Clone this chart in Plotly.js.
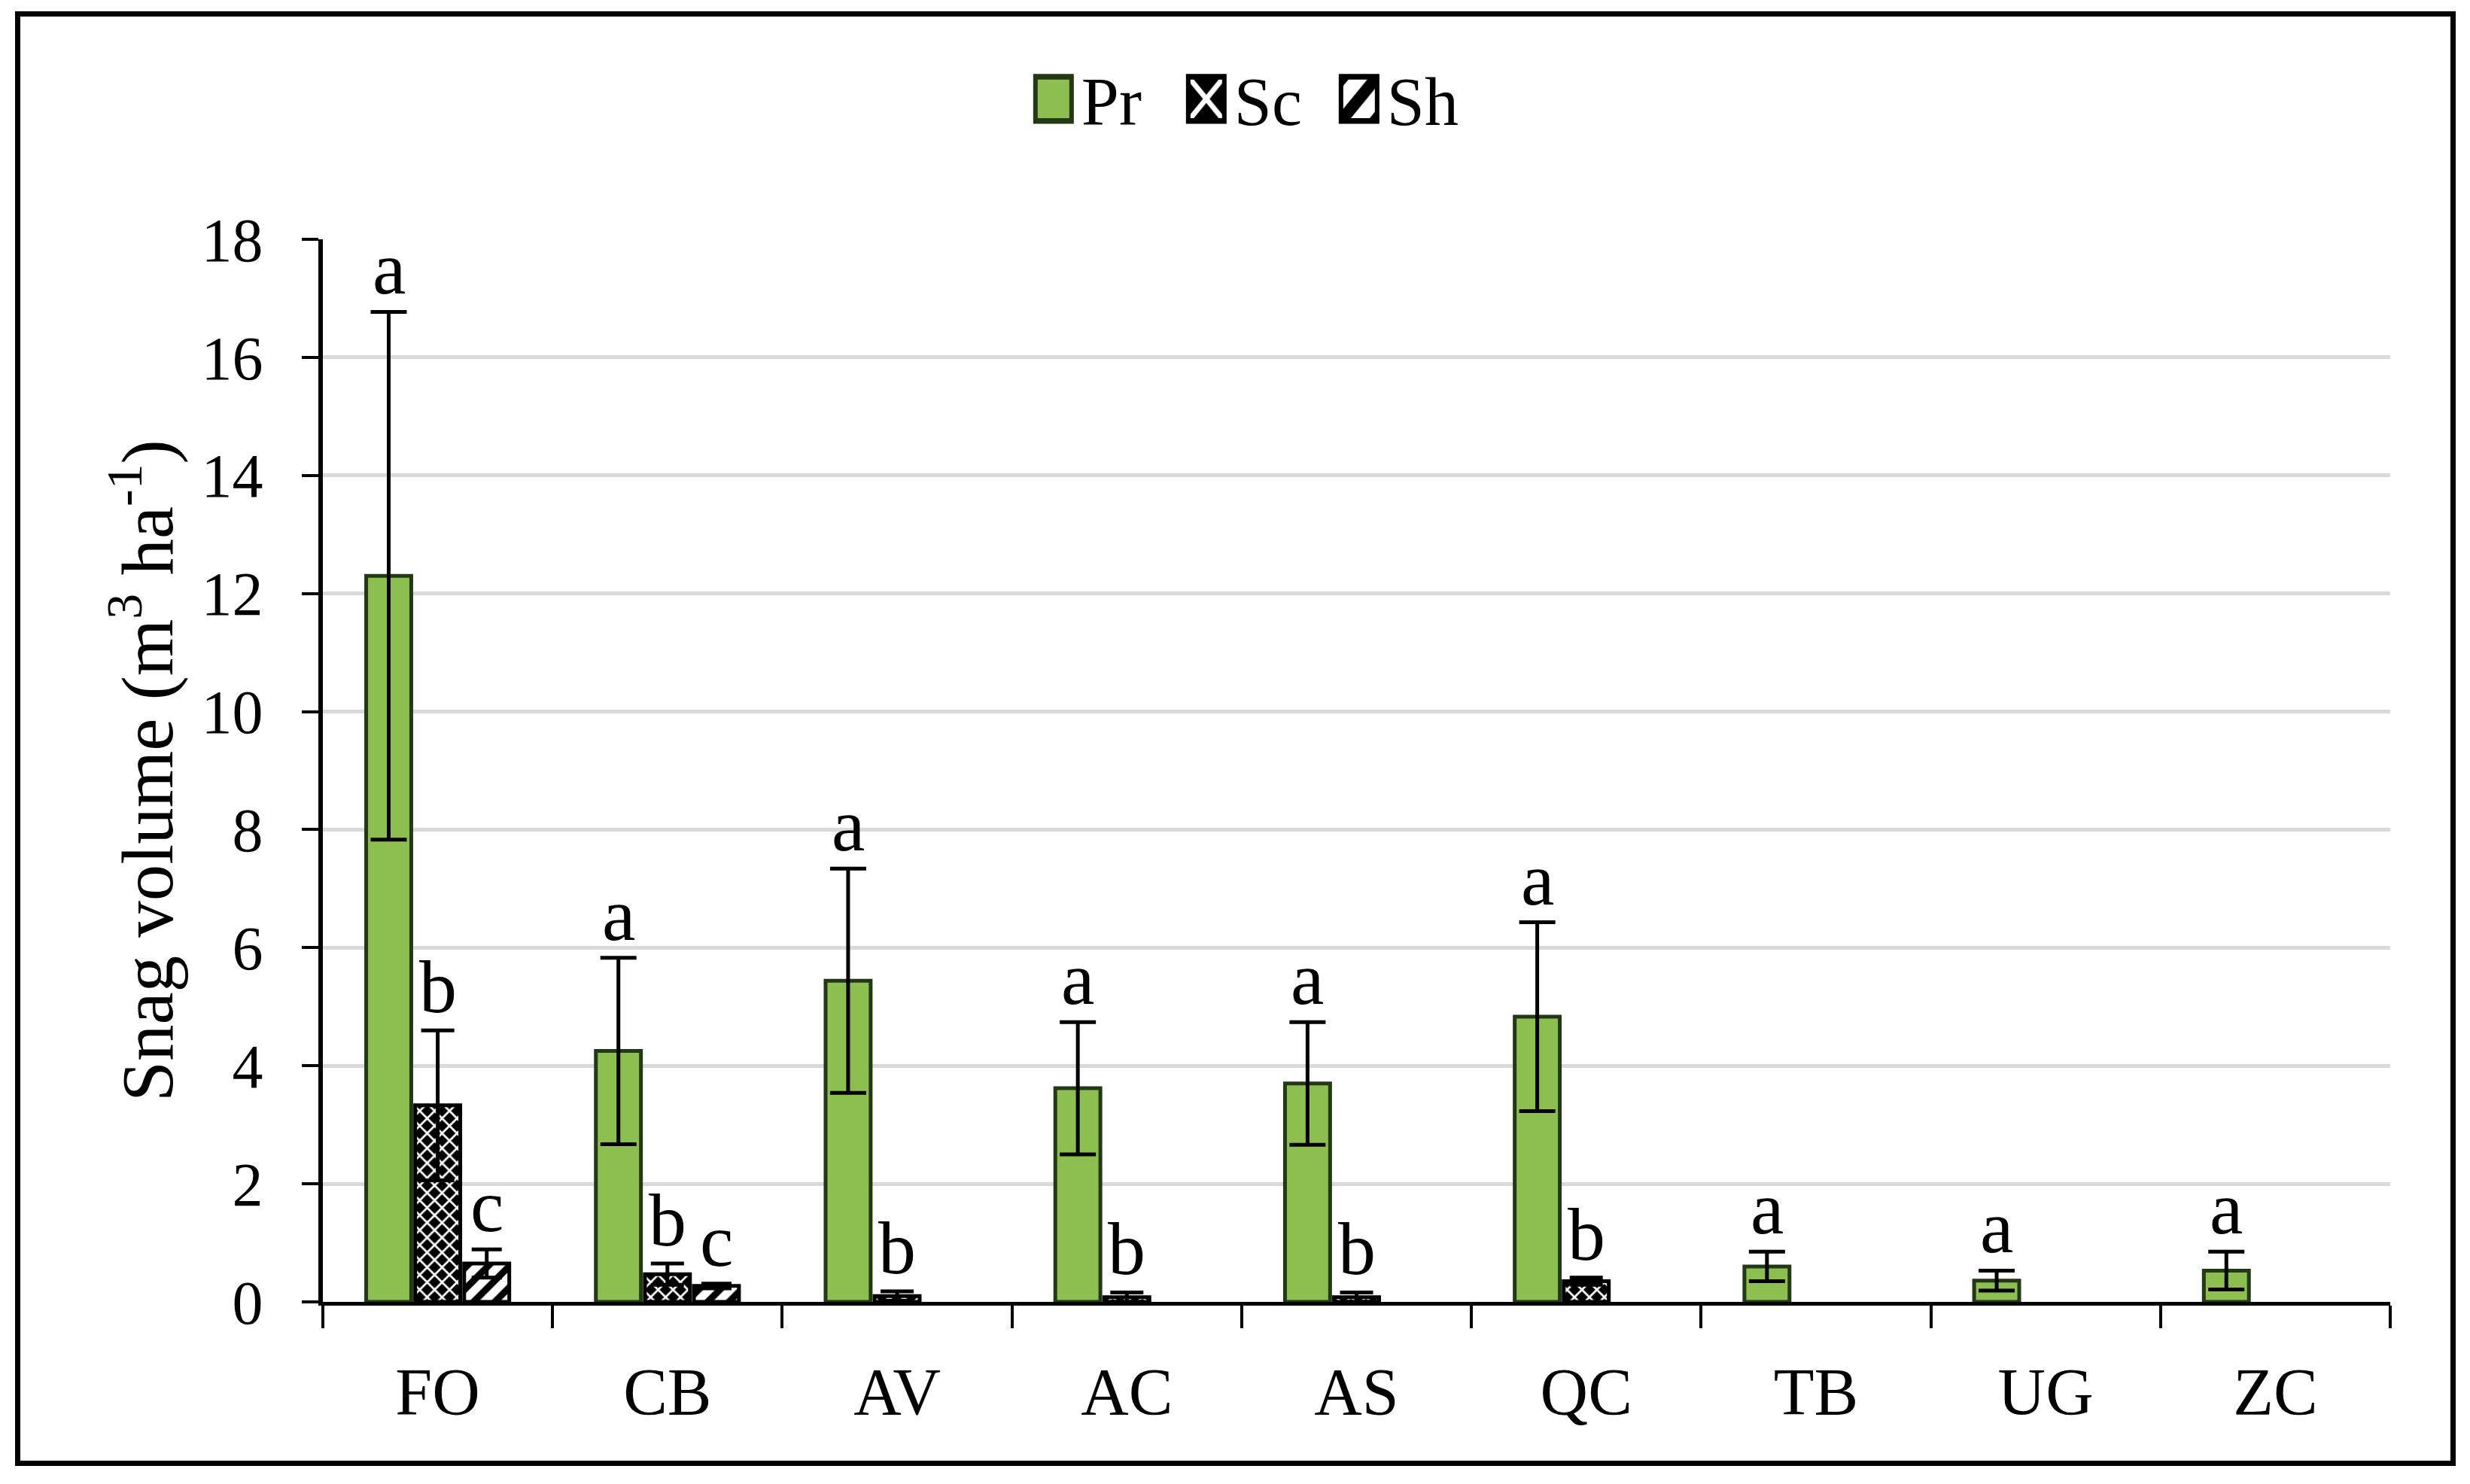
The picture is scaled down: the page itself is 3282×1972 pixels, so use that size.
<!DOCTYPE html>
<html>
<head>
<meta charset="utf-8">
<script src="https://cdn.plot.ly/plotly-3.0.1.min.js"></script>
<style>
  html, body { margin: 0; padding: 0; background: #fff; width: 3282px; height: 1972px; overflow: hidden; }
  #frame { position: absolute; left: 20px; top: 15px; width: 3243px; height: 1933px; box-sizing: border-box; border: 7px solid #000; background: #fff; }
  #chart { position: absolute; left: 0; top: 0; width: 3229px; height: 1919px; }
</style>
</head>
<body>
<div id="frame"><div id="chart"></div></div>
<script>
// ---- data ----
const categories = ['FO', 'CB', 'AV', 'AC', 'AS', 'QC', 'TB', 'UG', 'ZC'];
const seriesNames = ['Pr', 'Sc', 'Sh'];

const prValues = [12.30, 4.25, 5.44, 3.62, 3.70, 4.83, 0.60, 0.36, 0.53];
const prErrors = [4.47, 1.58, 1.90, 1.12, 1.04, 1.60, 0.25, 0.17, 0.32];
const prLetters = ['a', 'a', 'a', 'a', 'a', 'a', 'a', 'a', 'a'];

const scValues = [3.33, 0.47, 0.10, 0.08, 0.08, 0.35, null, null, null];
const scErrors = [1.27, 0.18, 0.08, 0.08, 0.08, 0.06, null, null, null];
const scLetters = ['b', 'b', 'b', 'b', 'b', 'b', '', '', ''];

const shValues = [0.65, 0.27, null, null, null, null, null, null, null];
const shErrors = [0.24, 0.04, null, null, null, null, null, null, null];
const shLetters = ['c', 'c', '', '', '', '', '', '', ''];

const yTickVals = [0, 2, 4, 6, 8, 10, 12, 14, 16, 18];

// ---- styling ----
const FONT = 'Liberation Serif, Times New Roman, serif';
const BARGAP = 0.36;

const errStyle = (arr, w) => ({ type: 'data', array: arr, visible: true, color: '#000', thickness: 5, width: w });

const traces = [
  {
    type: 'bar', name: seriesNames[0], x: categories, y: prValues,
    marker: { color: '#8cbf50', line: { color: '#223816', width: 5 } },
    error_y: errStyle(prErrors, 24)
  },
  {
    type: 'bar', name: seriesNames[1], x: categories, y: scValues,
    marker: { color: '#000', line: { color: '#000', width: 5 },
      pattern: { shape: 'x', fgcolor: '#fff', bgcolor: '#000', size: 14, solidity: 0.35 } },
    error_y: errStyle(scErrors, 22)
  },
  {
    type: 'bar', name: seriesNames[2], x: categories, y: shValues,
    marker: { color: '#fff', line: { color: '#000', width: 5 },
      pattern: { shape: '/', fgcolor: '#000', bgcolor: '#fff', size: 20, solidity: 0.45 } },
    error_y: errStyle(shErrors, 20)
  }
];

// significance letters, placed over each bar's error bar through the axis scales
const letterSets = [
  [prValues, prErrors, prLetters],
  [scValues, scErrors, scLetters],
  [shValues, shErrors, shLetters]
];
const slot = (1 - BARGAP) / letterSets.length;
const annotations = [];
letterSets.forEach(([vals, errs, letters], i) => {
  const off = (i - (letterSets.length - 1) / 2) * slot;
  categories.forEach((c, j) => {
    if (!letters[j] || vals[j] == null) return;
    annotations.push({
      x: j + off, y: vals[j] + (errs[j] || 0), xref: 'x', yref: 'y',
      text: letters[j], showarrow: false, xanchor: 'center', yanchor: 'bottom',
      yshift: 0, font: { family: FONT, size: 100, color: '#000' }
    });
  });
});

const layout = {
  width: 3229, height: 1919,
  margin: { l: 402, r: 80, t: 296, b: 211 },
  paper_bgcolor: '#fff', plot_bgcolor: '#fff',
  barmode: 'group', bargap: BARGAP, bargroupgap: 0.08,
  font: { family: FONT, color: '#000' },
  showlegend: true,
  legend: {
    orientation: 'h', xref: 'container', yref: 'container',
    x: 0.508, y: 0.943, xanchor: 'center', yanchor: 'middle',
    font: { family: FONT, size: 90, color: '#000' }, itemwidth: 64,
    entrywidth: 124, entrywidthmode: 'pixels',
    bgcolor: 'rgba(0,0,0,0)', traceorder: 'normal'
  },
  xaxis: {
    type: 'category', range: [-0.5, categories.length - 0.5],
    showline: true, linecolor: '#000', linewidth: 5,
    ticks: 'outside', tickson: 'boundaries', ticklen: 30, tickwidth: 4, tickcolor: '#000',
    tickfont: { family: FONT, size: 88, color: '#000' }, ticklabelstandoff: 38,
    showgrid: false, zeroline: false, automargin: false
  },
  yaxis: {
    range: [0, 18], tickvals: yTickVals, ticktext: yTickVals.map(String),
    showline: true, linecolor: '#000', linewidth: 6,
    ticks: 'outside', ticklen: 22, tickwidth: 4, tickcolor: '#000',
    tickfont: { family: FONT, size: 82, color: '#000' }, ticklabelstandoff: 35,
    showgrid: true, gridcolor: '#d9d9d9', gridwidth: 5, zeroline: false, automargin: false,
    title: { text: 'Snag volume (m<sup>3</sup> ha<sup>-1</sup>)', font: { family: FONT, size: 97, color: '#000' }, standoff: 8 }
  },
  annotations: annotations
};

Plotly.newPlot('chart', traces, layout, { displayModeBar: false, staticPlot: true }).then(gd => {
  // enlarge the legend swatches (keep Plotly's own placement transform)
  gd.querySelectorAll('.legend .legendpoints path').forEach(p => {
    const t = p.getAttribute('transform') || '';
    p.setAttribute('transform', t + ' scale(4.0,4.9)');
    p.style.strokeWidth = '1.5px';
  });
});
</script>
</body>
</html>
